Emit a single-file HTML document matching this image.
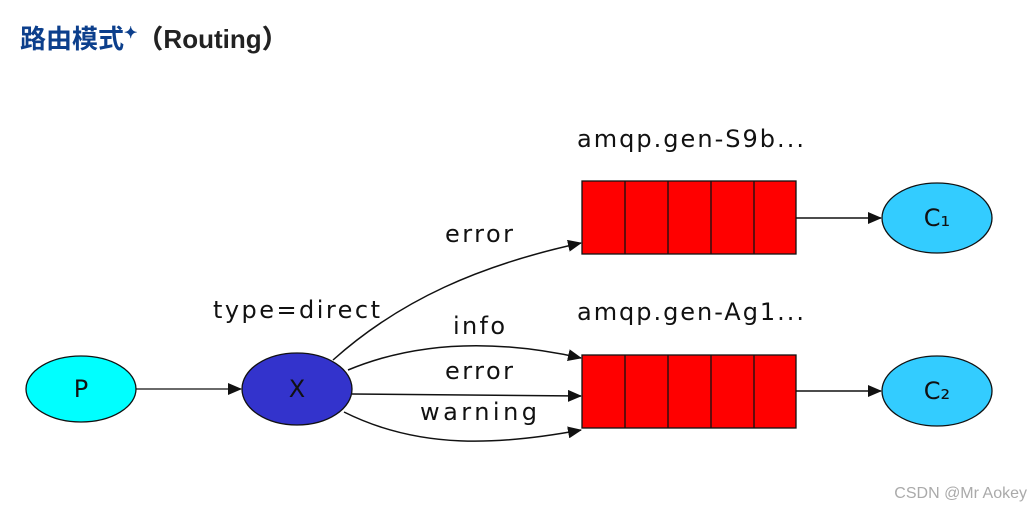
<!DOCTYPE html>
<html><head><meta charset="utf-8"><style>
body{margin:0;width:1031px;height:510px;background:#fff;overflow:hidden;position:relative}
.t{position:absolute;left:20px;top:19px;font:bold 26px "Liberation Sans","Noto Sans CJK SC",sans-serif;color:#0c3f8c;white-space:nowrap}
.t b{color:#222}
.t sup{font-size:16px;color:#0c3f8c;vertical-align:10px}
</style></head><body>
<div class="t">路由模式<sup>✦</sup><b>（Routing）</b></div>
<svg width="1031" height="510" style="position:absolute;left:0;top:0" font-family="DejaVu Sans, sans-serif" font-size="24" fill="#111">
<defs><marker id="a" markerWidth="14" markerHeight="12" refX="13" refY="6" orient="auto" markerUnits="userSpaceOnUse"><path d="M0,0 L14,6 L0,12z" fill="#111"/></marker></defs>
<g stroke="#111" stroke-width="1.5" fill="none">
<line x1="136" y1="389" x2="241" y2="389" marker-end="url(#a)" stroke-width="1.3"/>
<path d="M333,360 C400,300 480,265 581,243" marker-end="url(#a)"/>
<path d="M348,370 C420,340 500,340 581,358" marker-end="url(#a)"/>
<line x1="352" y1="394" x2="581" y2="396" marker-end="url(#a)"/>
<path d="M344,412 C420,450 500,445 581,430" marker-end="url(#a)"/>
<line x1="796" y1="218" x2="881" y2="218" marker-end="url(#a)"/>
<line x1="796" y1="391" x2="881" y2="391" marker-end="url(#a)"/>
</g>
<ellipse cx="81" cy="389" rx="55" ry="33" fill="#00ffff" stroke="#111" stroke-width="1.3"/>
<ellipse cx="297" cy="389" rx="55" ry="36" fill="#3333cc" stroke="#111" stroke-width="1.3"/>
<ellipse cx="937" cy="218" rx="55" ry="35" fill="#33ccff" stroke="#111" stroke-width="1.3"/>
<ellipse cx="937" cy="391" rx="55" ry="35" fill="#33ccff" stroke="#111" stroke-width="1.3"/>
<g fill="#ff0000" stroke="#111" stroke-width="1.3">
<rect x="582" y="181" width="214" height="73"/><rect x="582" y="355" width="214" height="73"/>
</g>
<g stroke="#111" stroke-width="1.3">
<line x1="625" y1="181" x2="625" y2="254"/><line x1="668" y1="181" x2="668" y2="254"/><line x1="711" y1="181" x2="711" y2="254"/><line x1="754" y1="181" x2="754" y2="254"/>
<line x1="625" y1="355" x2="625" y2="428"/><line x1="668" y1="355" x2="668" y2="428"/><line x1="711" y1="355" x2="711" y2="428"/><line x1="754" y1="355" x2="754" y2="428"/>
</g>
<text x="81" y="397" text-anchor="middle">P</text>
<text x="297" y="397" text-anchor="middle">X</text>
<text x="937" y="226" text-anchor="middle">C₁</text>
<text x="937" y="399" text-anchor="middle">C₂</text>
<text x="577" y="147" textLength="227" lengthAdjust="spacing">amqp.gen-S9b...</text>
<text x="577" y="320" textLength="227" lengthAdjust="spacing">amqp.gen-Ag1...</text>
<text x="213" y="318" textLength="167" lengthAdjust="spacing">type=direct</text>
<text x="445" y="242" textLength="68" lengthAdjust="spacing">error</text>
<text x="453" y="334" textLength="52" lengthAdjust="spacing">info</text>
<text x="445" y="379" textLength="68" lengthAdjust="spacing">error</text>
<text x="420" y="420" textLength="117" lengthAdjust="spacing">warning</text>
<text x="1027" y="498" text-anchor="end" font-size="16" fill="#aaa" font-family="Liberation Sans, sans-serif">CSDN @Mr  Aokey</text>
</svg>
</body></html>
